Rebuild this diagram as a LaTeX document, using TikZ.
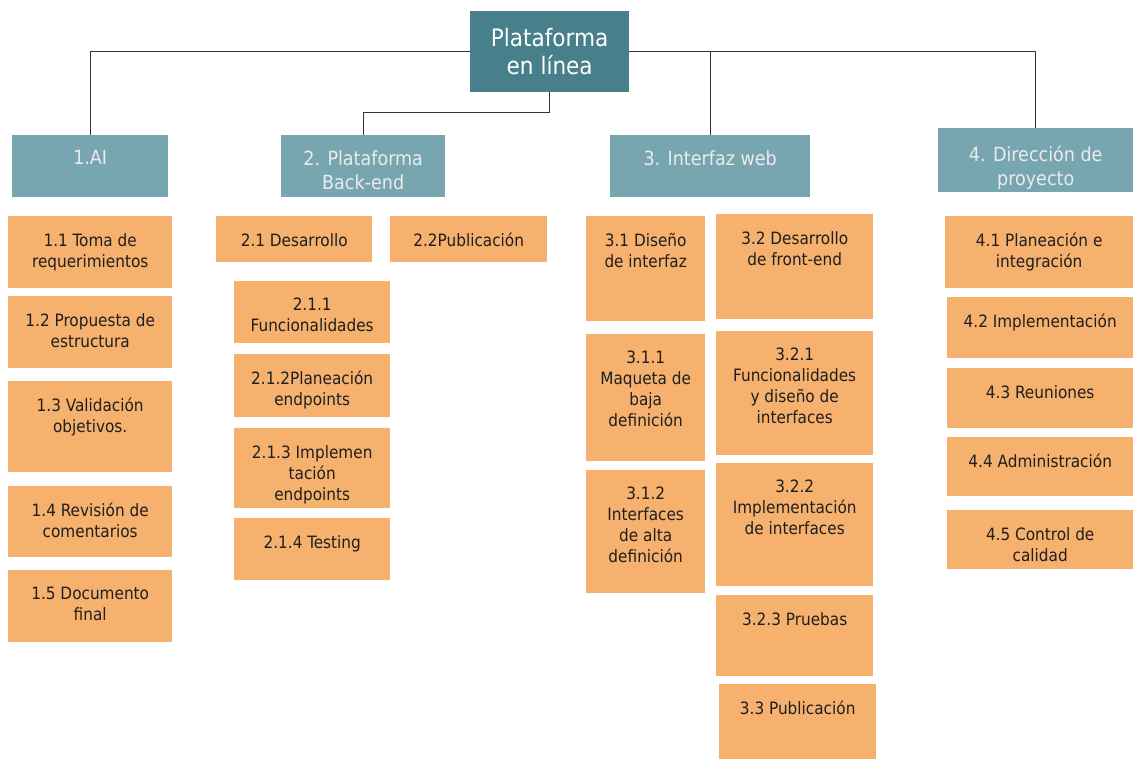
\documentclass[tikz,border=0pt]{standalone}
\usepackage{fontspec}
\setmainfont{DejaVu Sans Condensed}
\definecolor{rootteal}{HTML}{477F8A}
\definecolor{phaseteal}{HTML}{78A6B0}
\definecolor{taskorange}{HTML}{F5B16D}
\definecolor{linkgray}{HTML}{333333}
% width, height, top padding, text
\newcommand{\boxtext}[4]{\parbox[t][#2pt][t]{#1pt}{\centering\vspace*{#3pt}#4}}
\tikzset{
  rootbox/.style={fill=rootteal,text=white,align=center,inner sep=0pt,
    minimum width=159pt,minimum height=81pt,anchor=north west,
    font=\fontsize{24}{28}\selectfont},
  phase/.style={fill=phaseteal,text=white!92!black,inner sep=0pt,anchor=north west,
    font=\fontsize{19.5}{24}\selectfont},
  task/.style={fill=taskorange,text=black!88,inner sep=0pt,anchor=north west,
    font=\fontsize{17}{21}\selectfont},
  link/.style={draw=linkgray,line width=1.2pt}
}
\begin{document}
\begin{tikzpicture}[x=1pt,y=-1pt]
  \useasboundingbox (0,0) rectangle (1133,759);
  \node[rootbox] (root) at (470,11) {Plataforma\\en línea};

  \node[phase] (ai) at (12,135) {\boxtext{156}{62}{15}{1.AI}};
  \node[phase] (back) at (281,135) {\boxtext{164}{62}{15}{2. Plataforma\\Back-end}};
  \node[phase] (web) at (610,135) {\boxtext{200}{62}{15}{3. Interfaz web}};
  \node[phase] (dir) at (938,128) {\boxtext{195}{64}{18}{4. Dirección de\\proyecto}};

  \draw[link] (root.west) -| (ai.north);
  \draw[link] (root.east) -| (web.north);
  \draw[link] (root.east) -| (dir.north);
  \draw[link] (root.south) -- ++(0,20) -| (back.north);

  % 1. AI
  \node[task] (t11) at (8,216) {\boxtext{164}{72}{17}{1.1 Toma de\\requerimientos}};
  \node[task] (t12) at (8,296) {\boxtext{164}{72}{17}{1.2 Propuesta de\\estructura}};
  \node[task] (t13) at (8,381) {\boxtext{164}{91}{17}{1.3 Validación\\objetivos.}};
  \node[task] (t14) at (8,486) {\boxtext{164}{71}{17}{1.4 Revisión de\\comentarios}};
  \node[task] (t15) at (8,570) {\boxtext{164}{72}{17}{1.5 Documento\\final}};

  % 2. Plataforma Back-end
  \node[task] (t21) at (216,216) {\boxtext{156}{46}{17}{2.1 Desarrollo}};
  \node[task] (t22) at (390,216) {\boxtext{157}{46}{17}{2.2Publicación}};
  \node[task] (t211) at (234,281) {\boxtext{156}{62}{17}{2.1.1\\Funcionalidades}};
  \node[task] (t212) at (234,354) {\boxtext{156}{63}{17}{2.1.2Planeación\\endpoints}};
  \node[task] (t213) at (234,428) {\boxtext{156}{80}{17}{2.1.3 Implemen\\tación\\endpoints}};
  \node[task] (t214) at (234,518) {\boxtext{156}{62}{17}{2.1.4 Testing}};

  % 3. Interfaz web
  \node[task] (t31) at (586,216) {\boxtext{119}{105}{17}{3.1 Diseño\\de interfaz}};
  \node[task] (t311) at (586,334) {\boxtext{119}{127}{17}{3.1.1\\Maqueta de\\baja\\definición}};
  \node[task] (t312) at (586,470) {\boxtext{119}{123}{17}{3.1.2\\Interfaces\\de alta\\definición}};
  \node[task] (t32) at (716,214) {\boxtext{157}{105}{17}{3.2 Desarrollo\\de front-end}};
  \node[task] (t321) at (716,331) {\boxtext{157}{124}{17}{3.2.1\\Funcionalidades\\y diseño de\\interfaces}};
  \node[task] (t322) at (716,463) {\boxtext{157}{123}{17}{3.2.2\\Implementación\\de interfaces}};
  \node[task] (t323) at (716,595) {\boxtext{157}{81}{17}{3.2.3 Pruebas}};
  \node[task] (t33) at (719,684) {\boxtext{157}{75}{17}{3.3 Publicación}};

  % 4. Direccion de proyecto
  \node[task] (t41) at (945,216) {\boxtext{188}{72}{17}{4.1 Planeación e\\integración}};
  \node[task] (t42) at (947,297) {\boxtext{186}{61}{17}{4.2 Implementación}};
  \node[task] (t43) at (947,368) {\boxtext{186}{60}{17}{4.3 Reuniones}};
  \node[task] (t44) at (947,437) {\boxtext{186}{59}{17}{4.4 Administración}};
  \node[task] (t45) at (947,510) {\boxtext{186}{59}{17}{4.5 Control de\\calidad}};
\end{tikzpicture}
\end{document}
